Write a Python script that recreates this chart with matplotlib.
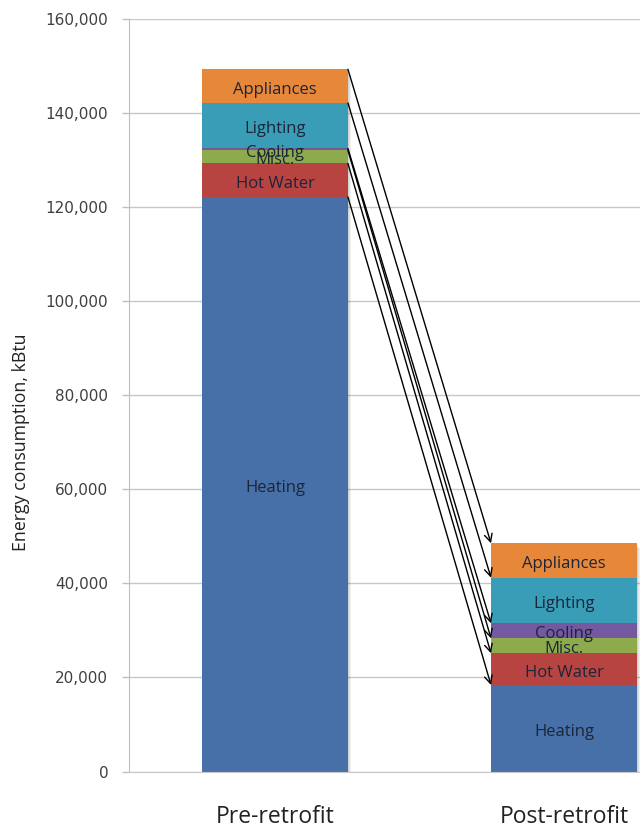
import matplotlib
matplotlib.use("Agg")
import matplotlib.pyplot as plt
from matplotlib.ticker import FuncFormatter
import numpy as np

# End-use energy breakdown before and after the retrofit (kBtu)
scenarios = ["Pre-retrofit", "Post-retrofit"]
end_uses = ["Heating", "Hot Water", "Misc.", "Cooling", "Lighting", "Appliances"]
heating = [122150, 18390]
hot_water = [7130, 6740]
misc = [2790, 3190]
cooling = [400, 3190]
lighting = [9680, 9700]
appliances = [7150, 7310]

y_ticks = [0, 20000, 40000, 60000, 80000, 100000, 120000, 140000, 160000]
y_label = "Energy consumption, kBtu"

colors = ["#4770a9", "#b84441", "#8daa4c", "#7459a0", "#3a9db8", "#e6873a"]
text_color = "#1c2538"

series = [heating, hot_water, misc, cooling, lighting, appliances]

fig = plt.figure(figsize=(6.4, 8.3), dpi=100)
ax = fig.add_axes([129 / 640, 58.5 / 830, (640 - 129) / 640, 752.5 / 830])

x = np.arange(len(scenarios))
width = 0.505

# soft drop shadow behind the stacks
totals = np.sum(series, axis=0)
for k in range(3, 0, -1):
    ax.bar(x + 0.004 * k, totals, width, bottom=-350 * k, color="#000000",
           alpha=0.06, zorder=1.5, linewidth=0)

bottoms = np.zeros(len(scenarios))
for name, vals, col in zip(end_uses, series, colors):
    vals = np.array(vals, dtype=float)
    ax.bar(x, vals, width, bottom=bottoms, color=col, zorder=2, linewidth=0)
    for i in range(len(scenarios)):
        ax.annotate(name, xy=(x[i], bottoms[i] + vals[i] / 2),
                    xytext=(0, -2.5), textcoords="offset points",
                    ha="center", va="center", fontsize=12, color=text_color,
                    family="Open Sans", zorder=3)
    bottoms = bottoms + vals

# arrows linking the top of each segment across scenarios
tops_pre = np.cumsum([s[0] for s in series])
tops_post = np.cumsum([s[1] for s in series])
for yp, yq in zip(tops_pre, tops_post):
    ax.annotate("", xy=(x[1] - width / 2, yq), xytext=(x[0] + width / 2, yp),
                arrowprops=dict(arrowstyle="->", color="black", lw=1.0,
                                shrinkA=0, shrinkB=0, mutation_scale=14),
                zorder=4)

ax.set_xlim(-0.505, 1.263)
ax.set_ylim(0, 160000)
ax.set_yticks(y_ticks)
ax.yaxis.set_major_formatter(FuncFormatter(lambda v, p: f"{int(v):,}"))
ax.set_xticks(x)
ax.set_xticklabels(scenarios, fontsize=16.5, family="Open Sans", color="#222222")
ax.tick_params(axis="x", length=0, pad=24)
ax.tick_params(axis="y", length=5, width=1, color="#bfbfbf", labelsize=11,
               labelcolor="#404040", pad=10)
for lab in ax.get_yticklabels():
    lab.set_family("DejaVu Sans")

ax.grid(axis="y", color="#c8c8c8", linewidth=1.0, zorder=0)
ax.set_axisbelow(True)
for side in ["top", "right"]:
    ax.spines[side].set_visible(False)
ax.spines["left"].set_color("#bfbfbf")
ax.spines["bottom"].set_color("#c8c8c8")

ax.set_ylabel(y_label, fontsize=12.8, family="Open Sans", color="#222222")
ax.yaxis.set_label_coords(-0.194, 0.438)

fig.savefig("out.png", dpi=100, facecolor="white")
